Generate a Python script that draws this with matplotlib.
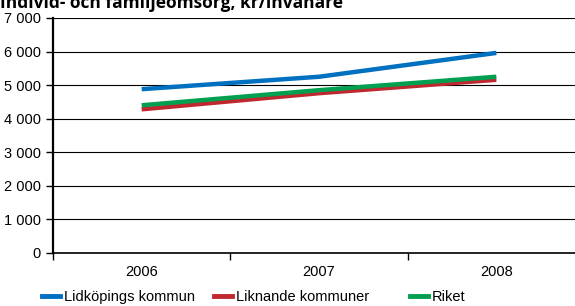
import matplotlib
matplotlib.use("Agg")
import matplotlib.pyplot as plt
import numpy as np

plt.rcParams['font.family'] = ['Liberation Sans', 'DejaVu Sans']

# ------------------------
# Data
years = ['2006', '2007', '2008']
lidkoping = [4880, 5250, 5960]
liknande = [4280, 4760, 5160]
riket = [4400, 4850, 5250]
series_names = ['Lidköpings kommun', 'Liknande kommuner', 'Riket']
colors = ['#0070c0', '#c0282f', '#00a050']
yticks = [0, 1000, 2000, 3000, 4000, 5000, 6000, 7000]
title = 'Individ- och familjeomsorg, kr/invånare'

# ------------------------
fig = plt.figure(figsize=(5.75, 3.06), dpi=100)
ax = fig.add_axes([53/575, 1-253/306, (585-53)/575, 235/306])

x = np.arange(len(years)) + 0.5
# rita röd, grön, sedan blå överst
for vals, c in [(liknande, colors[1]), (riket, colors[2]), (lidkoping, colors[0])]:
    ax.plot(x, vals, color=c, linewidth=3.2, solid_capstyle='butt', zorder=3)

ax.set_xlim(0, 3)
ax.set_ylim(0, 7000)
ax.set_yticks(yticks)
ax.set_yticklabels([f'{v:,}'.replace(',', ' ') for v in yticks], fontsize=10.5)
ax.set_xticks([0, 1, 2, 3])
ax.set_xticklabels([])
ax.set_xticks(x, minor=True)
ax.set_xticklabels(years, minor=True, fontsize=10.5)
ax.tick_params(axis='x', which='minor', length=0, pad=9)
ax.tick_params(axis='x', which='major', direction='out', length=5, width=1)
ax.tick_params(axis='y', direction='out', length=5, width=1, pad=4)
ax.grid(axis='y', color='black', linewidth=0.8)
ax.set_axisbelow(True)
for s in ['top', 'right']:
    ax.spines[s].set_visible(False)
ax.spines['left'].set_linewidth(1.6)
ax.spines['bottom'].set_linewidth(1.2)

# Legend
handles = [plt.Line2D([], [], color=c, linewidth=3.5) for c in colors]
for h, name, xp in zip(handles, series_names, [42/575, 214/575, 410/575]):
    fig.legend([h], [name], loc='center left', bbox_to_anchor=(xp, 1-297/306),
               frameon=False, fontsize=10.5, handlelength=1.2, handletextpad=0.3,
               borderaxespad=0, borderpad=0)

# Titel, avskuren av övre kanten som i originalet
fig.text(0.0, 1-3/306, title, fontsize=12.5, fontweight='bold', family='Open Sans',
         va='center', ha='left')

fig.savefig('out.png', dpi=100)
